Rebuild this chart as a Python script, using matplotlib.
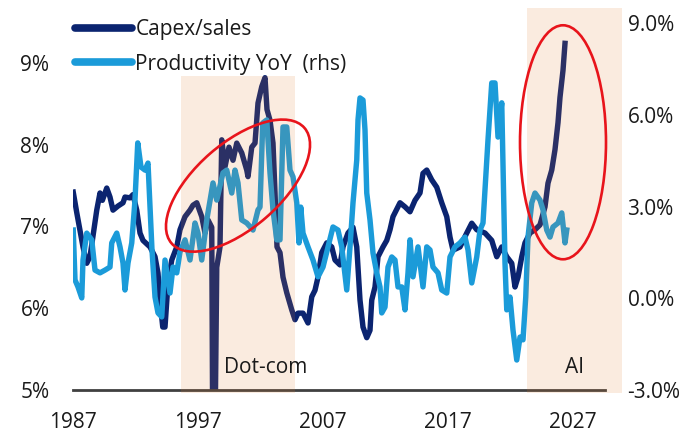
import matplotlib
matplotlib.use("Agg")
import matplotlib.pyplot as plt
from matplotlib.patches import Rectangle, Ellipse
from matplotlib.transforms import ScaledTranslation

plt.rcParams["font.family"] = ["Open Sans", "DejaVu Sans"]

# ── Data ────────────────────────────────────────────────────────────────────
capex_year = [
    1987.02, 1987.30, 1987.80, 1988.10, 1988.36, 1988.90, 1989.16, 1989.35,
    1989.70, 1989.96, 1990.20, 1990.60, 1991.00, 1991.16, 1991.56, 1991.80,
    1992.10, 1992.36, 1992.60, 1993.16, 1993.56, 1993.80, 1993.96, 1994.18,
    1994.36, 1994.60, 1994.90, 1995.30, 1995.56, 1995.96, 1996.36, 1996.60,
    1996.90, 1997.30, 1997.56, 1997.80, 1998.10, 1998.16, 1998.40, 1998.50,
    1998.76, 1998.90, 1999.16, 1999.48, 1999.80, 2000.10, 2000.50, 2000.90,
    2001.00, 2001.30, 2001.56, 2001.80, 2002.10, 2002.36, 2002.52, 2002.76,
    2003.00, 2003.16, 2003.32, 2003.56, 2003.80, 2004.10, 2004.50, 2004.76,
    2005.00, 2005.40, 2005.80, 2006.10, 2006.36, 2006.60, 2006.90, 2007.30,
    2007.70, 2007.96, 2008.36, 2008.60, 2009.00, 2009.40, 2009.70, 2009.96,
    2010.20, 2010.50, 2010.76, 2010.90, 2011.16, 2011.40, 2011.80, 2012.10,
    2012.36, 2012.60, 2013.16, 2013.56, 2013.96, 2014.36, 2014.76, 2015.00,
    2015.30, 2015.70, 2016.10, 2016.50, 2016.90, 2017.16, 2017.40, 2017.96,
    2018.50, 2018.90, 2019.30, 2019.96, 2020.50, 2020.90, 2021.30, 2021.70,
    2022.10, 2022.36, 2022.60, 2022.90, 2023.16, 2023.56, 2023.96, 2024.36,
    2024.76, 2025.00, 2025.30, 2025.56, 2025.80, 2025.96, 2026.20, 2026.36,
]
capex_sales = [
    7.42, 7.17, 6.75, 6.55, 6.63, 7.20, 7.41, 7.32,
    7.47, 7.36, 7.20, 7.25, 7.29, 7.36, 7.35, 7.39,
    7.20, 6.92, 6.83, 6.75, 6.63, 6.43, 6.10, 5.77,
    5.77, 6.31, 6.59, 6.75, 6.96, 7.12, 7.20, 7.26,
    7.29, 7.12, 6.92, 7.08, 6.99, 5.00, 5.00, 6.50,
    6.75, 8.06, 7.73, 7.97, 7.81, 8.02, 7.90, 7.69,
    7.61, 7.97, 8.02, 8.51, 8.71, 8.82, 8.43, 8.30,
    8.02, 7.41, 6.75, 6.68, 6.38, 6.19, 5.98, 5.86,
    5.94, 5.94, 5.82, 6.14, 6.22, 6.38, 6.68, 6.80,
    6.75, 6.59, 6.53, 6.75, 6.92, 6.99, 6.75, 6.10,
    5.77, 5.64, 5.73, 6.10, 6.26, 6.63, 6.75, 6.83,
    6.96, 7.12, 7.29, 7.24, 7.18, 7.32, 7.41, 7.65,
    7.69, 7.57, 7.48, 7.29, 7.12, 6.87, 6.71, 6.75,
    6.92, 7.04, 6.96, 6.92, 6.83, 6.63, 6.75, 6.63,
    6.55, 6.26, 6.38, 6.63, 6.80, 6.92, 6.96, 7.02,
    7.24, 7.53, 7.69, 7.94, 8.27, 8.58, 8.91, 9.24,
]

prod_year = [
    1987.02, 1987.16, 1987.40, 1987.70, 1987.80, 1988.10, 1988.50, 1988.76,
    1989.16, 1989.56, 1989.96, 1990.10, 1990.50, 1990.76, 1991.00, 1991.16,
    1991.40, 1991.70, 1991.96, 1992.18, 1992.44, 1992.76, 1993.00, 1993.32,
    1993.56, 1993.80, 1994.10, 1994.36, 1994.76, 1995.00, 1995.30, 1995.56,
    1995.96, 1996.36, 1996.76, 1997.00, 1997.30, 1997.70, 1998.20, 1998.50,
    1999.00, 1999.30, 1999.70, 1999.96, 2000.20, 2000.50, 2000.90, 2001.40,
    2001.80, 2001.96, 2002.18, 2002.50, 2002.76, 2003.00, 2003.30, 2003.56,
    2003.80, 2004.10, 2004.36, 2004.60, 2004.90, 2005.08, 2005.22, 2005.40,
    2005.80, 2006.20, 2006.60, 2007.00, 2007.40, 2007.80, 2008.20, 2008.50,
    2008.90, 2009.16, 2009.40, 2009.70, 2009.80, 2009.96, 2010.20, 2010.36,
    2010.50, 2010.76, 2011.00, 2011.30, 2011.56, 2011.70, 2011.96, 2012.20,
    2012.50, 2012.76, 2013.00, 2013.30, 2013.56, 2013.80, 2013.96, 2014.20,
    2014.60, 2015.00, 2015.30, 2015.56, 2015.80, 2016.20, 2016.50, 2016.90,
    2017.16, 2017.56, 2017.96, 2018.36, 2018.60, 2018.90, 2019.30, 2019.56,
    2019.80, 2019.96, 2020.20, 2020.50, 2020.76, 2021.00, 2021.30, 2021.40,
    2021.56, 2021.70, 2021.96, 2022.20, 2022.50, 2022.76, 2023.00, 2023.22,
    2023.40, 2023.70, 2023.96, 2024.36, 2024.60, 2024.90, 2025.16, 2025.40,
    2025.80, 2026.10, 2026.36, 2026.50,
]
prod_yoy = [
    2.23, 0.60, 0.37, 0.01, 1.25, 2.13, 1.91, 0.92,
    0.83, 0.92, 1.02, 1.81, 2.13, 1.68, 1.15, 0.27,
    1.15, 1.81, 3.21, 5.08, 4.29, 4.19, 4.42, 1.58,
    0.04, -0.48, -0.61, 1.25, 0.17, 1.02, 0.83, 1.51,
    1.91, 1.25, 2.46, 2.13, 1.25, 2.56, 3.77, 3.21,
    4.10, 4.19, 3.44, 4.19, 3.77, 2.56, 2.46, 2.23,
    2.89, 2.98, 5.73, 5.83, 4.10, 2.89, 1.91, 1.91,
    5.60, 5.60, 4.19, 3.97, 3.12, 1.81, 2.98, 2.13,
    1.68, 1.25, 0.70, 1.02, 1.68, 2.33, 2.23, 1.68,
    0.27, 1.68, 3.12, 4.52, 5.83, 6.55, 6.48, 5.50,
    3.44, 2.56, 1.48, 0.83, 0.37, -0.48, -0.29, 1.02,
    1.35, 1.25, 0.37, 0.37, -0.38, 0.83, 1.91, 0.70,
    1.68, 0.37, 1.68, 1.58, 1.02, 0.83, 0.27, 0.17,
    1.35, 1.68, 1.81, 2.00, 1.58, 0.50, 1.35, 2.23,
    2.46, 3.54, 5.18, 7.04, 7.04, 5.27, 6.39, 4.42,
    1.15, -0.38, 0.04, -1.04, -2.02, -1.27, -1.36, 0.04,
    2.00, 3.12, 3.44, 3.21, 2.89, 2.23, 2.00, 2.33,
    2.46, 2.79, 1.81, 2.23,
]

left_ticks = [5, 6, 7, 8, 9]
right_ticks = [-3, 0, 3, 6, 9]
year_ticks = [1987, 1997, 2007, 2017, 2027]

episodes = [("Dot-com", 1995.64, 2004.76, 8.84), ("AI", 2023.3, 2030.9, 9.67)]

# ── Style ───────────────────────────────────────────────────────────────────
NAVY = "#0B2470"
LIGHT = "#1B9BD9"
SHADE = "#E47A2A"
RED = "#E8141B"
TXT = "#1A1A1A"
FS = 15

fig = plt.figure(figsize=(6.89, 4.36), dpi=100)
ax = fig.add_axes([73 / 689, 46 / 436, 549 / 689, 367 / 436])
ax2 = ax.twinx()

ax.plot(capex_year, capex_sales, color=NAVY, lw=3.9, solid_joinstyle="round",
        label="Capex/sales", zorder=3)
ax2.plot(prod_year, prod_yoy, color=LIGHT, lw=3.9, solid_joinstyle="round",
         label="Productivity YoY  (rhs)", zorder=2)

ax.set_xlim(1987, 2030.92)
ax.set_ylim(5, 9.489)
ax2.set_ylim(-3, 9)

ax.set_xticks(year_ticks)
ax.set_xticklabels([str(y) for y in year_ticks])
ax.set_yticks(left_ticks)
ax.set_yticklabels([f"{v}%" for v in left_ticks])
ax2.set_yticks(right_ticks)
ax2.set_yticklabels([f"{v:.1f}%" for v in right_ticks])

for a in (ax, ax2):
    for s in a.spines.values():
        s.set_visible(False)
ax.tick_params(axis="x", length=0, pad=16, labelsize=FS, colors=TXT)
ax.tick_params(axis="y", length=0, pad=17, labelsize=FS, colors=TXT)
ax2.tick_params(axis="y", length=0, pad=4, labelsize=FS, colors=TXT)

# baseline at 5%
ax.plot([1987, 2029.56], [5, 5], color="#404040", lw=2, clip_on=False, zorder=4)

# shaded episodes, drawn over the lines
for name, x0, x1, top in episodes:
    ax2.add_patch(Rectangle((x0, 4.96), x1 - x0, top - 4.96, transform=ax.transData,
                            facecolor=SHADE, alpha=0.15, lw=0, clip_on=False, zorder=5))
    ax2.text((x0 + x1) / 2 if name == "AI" else 2002.44, 5.28, name,
             transform=ax.transData, ha="center", va="center", fontsize=FS,
             color=TXT, zorder=6)

# red ellipses (size in inches, centre in data units)
for cx, cy, w, h, ang in [(2000.2, 7.50, 1.76, 0.85, 41), (2026.2, 8.03, 0.86, 2.34, 0)]:
    tr = fig.dpi_scale_trans + ScaledTranslation(cx, cy, ax.transData)
    ax2.add_patch(Ellipse((0, 0), w, h, angle=ang, transform=tr, fill=False,
                          edgecolor=RED, lw=1.9, clip_on=False, zorder=7))

h1, l1 = ax.get_legend_handles_labels()
h2, l2 = ax2.get_legend_handles_labels()
leg = ax2.legend(h1 + h2, l1 + l2, loc="upper left", frameon=False,
                 bbox_to_anchor=(75 / 689, 1 - 19 / 436), bbox_transform=fig.transFigure,
                 fontsize=FS, handlelength=2.75, handletextpad=0.15, borderpad=0,
                 borderaxespad=0, labelspacing=0.65)
for line in leg.get_lines():
    line.set_linewidth(5.5)
    line.set_solid_capstyle("round")
for t in leg.get_texts():
    t.set_color(TXT)
leg.set_zorder(10)

fig.savefig("out.png", dpi=100)
